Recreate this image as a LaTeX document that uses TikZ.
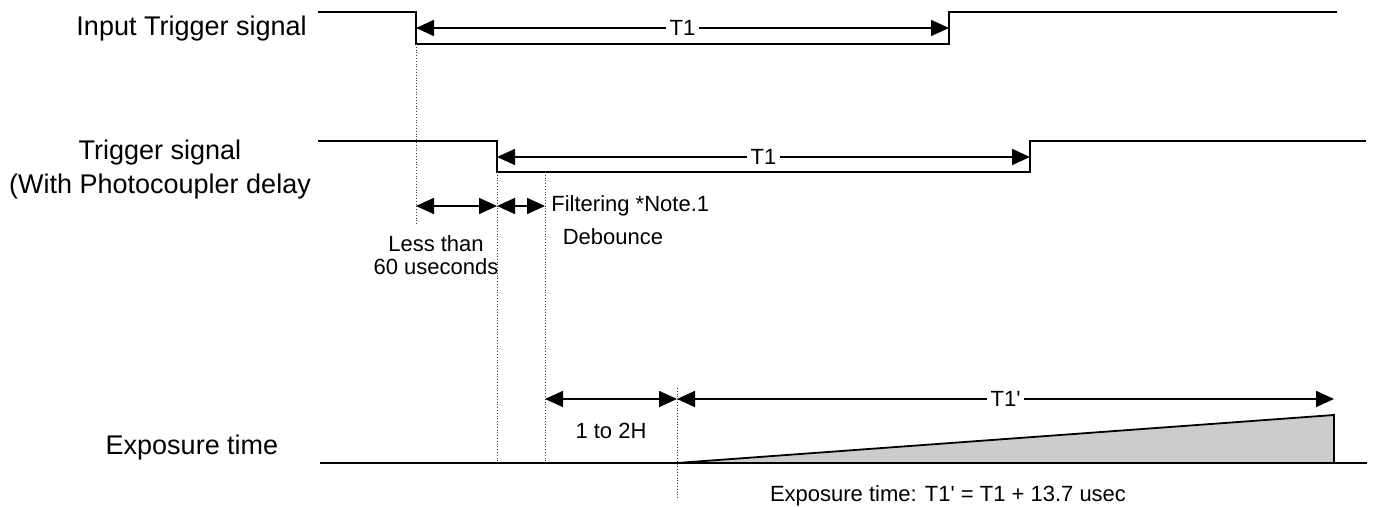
\documentclass[tikz,border=0pt]{standalone}
\usepackage{fontspec}
\setmainfont{Liberation Sans}
\usetikzlibrary{arrows.meta, positioning, calc}

\begin{document}
\begin{tikzpicture}[
    x=0.5pt, y=-0.5pt,
    sig/.style={line width=1pt, line join=miter},
    guide/.style={densely dotted, line width=0.4pt, black!75},
    dim/.style={{Triangle[length=9pt,width=8pt]}-{Triangle[length=9pt,width=8pt]}, line width=0.8pt},
    ramp/.style={line width=0.9pt, fill=black!20},
    sglbl/.style={font=\fontsize{13.5}{17}\selectfont, align=center, inner sep=0pt},
    lbl/.style={font=\fontsize{11}{11.5}\selectfont, align=center, inner sep=0pt},
    tlbl/.style={lbl, fill=white, inner xsep=2pt, inner ysep=1pt}
]
\useasboundingbox (0,0) rectangle (1375,507);

% =============================================
% Signal names (left column)
% =============================================
\node[sglbl, anchor=east] (inname) at (307,29) {Input Trigger signal};
\node[sglbl] (trname) at (160,170) {Trigger signal\\(With Photocoupler delay};
\node[sglbl] (exname) at (192,448) {Exposure time};

% =============================================
% ROW 1: Input trigger signal
% =============================================
\coordinate (inS) at (318,12);
\coordinate (inF) at (416,12);
\coordinate (inL) at (416,44);
\coordinate (inR) at (949,44);
\coordinate (inH) at (949,12);
\coordinate (inE) at (1337,12);
\draw[sig] (inS) -- (inF) -- (inL) -- (inR) -- (inH) -- (inE);

\coordinate (inT1a) at (416,28);
\coordinate (inT1b) at (949,28);
\draw[dim] (inT1a) -- (inT1b) node[tlbl, midway] (inT1) {T1};

\coordinate (inG) at (416,225);
\draw[guide] (inL) -- (inG);

% =============================================
% ROW 2: Trigger signal with photocoupler delay
% =============================================
\coordinate (trS) at (318,141);
\coordinate (trF) at (497,141);
\coordinate (trL) at (497,172);
\coordinate (trR) at (1030,172);
\coordinate (trH) at (1030,141);
\coordinate (trE) at (1366,141);
\draw[sig] (trS) -- (trF) -- (trL) -- (trR) -- (trH) -- (trE);

\coordinate (trT1a) at (497,157);
\coordinate (trT1b) at (1030,157);
\draw[dim] (trT1a) -- (trT1b) node[tlbl, midway] (trT1) {T1};

% filtering point on the low level
\coordinate (flt) at (545,172);

% delay and debounce spans
\coordinate (dlyA) at (416,206);
\coordinate (dlyB) at (497,206);
\coordinate (dlyC) at (545,206);
\draw[dim] (dlyA) -- (dlyB);
\draw[dim] (dlyB) -- (dlyC);

\node[lbl, anchor=west] (filter) at (551,206) {Filtering *Note.1};
\node[lbl] (debounce) at (613,237) {Debounce};
\node[lbl] (lessthan) at (436,255) {Less than\\60 useconds};

% =============================================
% ROW 3: Exposure time
% =============================================
\coordinate (exS) at (320,463);
\coordinate (exE) at (1367,463);
\coordinate (exA) at (677,463);
\coordinate (exTop) at (1334,415);
\coordinate (exB) at (1334,463);

\draw[ramp] (exA) -- (exTop) -- (exB) -- cycle;
\draw[sig] (exS) -- (exE);

\draw[guide] (trL) -- (trL |- exS);
\draw[guide] (flt) -- (flt |- exS);

\coordinate (exGa) at (677,388);
\coordinate (exGb) at (677,500);
\draw[guide] (exGa) -- (exGb);

\coordinate (hA) at (545,399);
\coordinate (hB) at (677,399);
\coordinate (hC) at (1334,399);
\draw[dim] (hA) -- (hB);
\draw[dim] (hB) -- (hC) node[tlbl, midway] (exT1) {T1\textquotesingle};

\node[lbl] (hlbl) at (611,431) {1 to 2H};
\node[lbl] (exnote) at (948,496) {Exposure time: T1\textquotesingle{} = T1 + 13.7 usec};

\end{tikzpicture}
\end{document}
